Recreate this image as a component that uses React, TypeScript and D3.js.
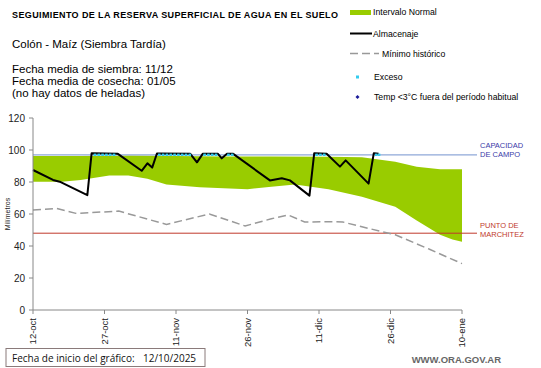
import React from "react";
import * as d3 from "d3";

const START = new Date(2025, 9, 12);
const tickLabels = ["12-oct", "27-oct", "11-nov", "26-nov", "11-dic", "26-dic", "10-ene"];
const tickDays = [0, 15, 30, 45, 60, 75, 90];
const yTicks = [0, 20, 40, 60, 80, 100, 120];

const bandUpperDays = [0, 10, 20, 30, 40, 50, 62, 69, 76, 80.5, 85.4, 90];
const bandUpperVals = [96.2, 96.3, 96.6, 96.3, 96, 96, 95.8, 95.4, 92.7, 89.6, 88, 88];
const bandLowerDays = [0, 6, 10, 16, 20, 24, 28, 35, 45, 50, 55, 62, 69, 76, 80.5, 85.4, 88, 90];
const bandLowerVals = [80.2, 80.2, 81.2, 84, 84, 82, 78.5, 76.7, 75.5, 77, 78.5, 75.4, 70.8, 64.6, 56, 47, 44, 42.7];

const storageDays = [0, 4.2, 5.6, 11.4, 12.3, 17.8, 22.8, 24, 25, 26, 33, 34.4, 35.6, 38.8, 39.6, 40.7, 42, 49.7, 52.2, 53.9, 58, 59, 61.6, 64.4, 65.6, 70.4, 71.5, 72.5];
const storageVals = [87.5, 81.3, 80.2, 71.8, 98, 97.6, 87, 91.7, 89, 97.8, 97.6, 92.3, 97.6, 97.6, 94.8, 97.6, 97.6, 81, 82.3, 81, 71.5, 98, 97.6, 89.6, 93.5, 79, 98, 97.6];

const minDays = [0, 5, 9, 18, 28, 37, 44.5, 50, 53.5, 57, 63, 65, 69, 76, 83.3, 90];
const minVals = [62.5, 63.5, 60.4, 61.8, 53.5, 60, 52.5, 57, 59.4, 55, 55.2, 55, 52, 47, 37.8, 29];

const excesoDays = [13, 13.8, 14.6, 15.4, 16.2, 17, 26.5, 27.3, 28.1, 28.9, 29.7, 30.5, 31.3, 32.1, 32.9, 36, 36.8, 37.6, 38.4, 41, 41.8, 59.5, 60.3, 61.1, 72, 72.6];
const excesoVal = 97;

const capacidad = 97;
const marchitez = 48;

const day = (d: number) => new Date(START.getTime() + d * 86400000);

export default function App() {
  const x = d3.scaleTime().domain([day(0), day(90)]).range([33, 462]);
  const y = d3.scaleLinear().domain([0, 120]).range([310, 118]);

  const upper = bandUpperDays.map((d, i) => ({ d, v: bandUpperVals[i] }));
  const lower = bandLowerDays.map((d, i) => ({ d, v: bandLowerVals[i] }));
  const areaPath =
    "M" +
    upper.map((p) => `${x(day(p.d))},${y(p.v)}`).join("L") +
    "L" +
    lower
      .slice()
      .reverse()
      .map((p) => `${x(day(p.d))},${y(p.v)}`)
      .join("L") +
    "Z";

  const line = d3
    .line<{ d: number; v: number }>()
    .x((p) => x(day(p.d)))
    .y((p) => y(p.v));

  const storage = storageDays.map((d, i) => ({ d, v: storageVals[i] }));
  const minH = minDays.map((d, i) => ({ d, v: minVals[i] }));

  const font = "'Liberation Sans', Arial, sans-serif";

  return (
    <svg width={541} height={368} style={{ position: "absolute", left: 0, top: 0 }} fontFamily={font}>
      <rect width={541} height={368} fill="#fff" />
      <text x={12} y={17.5} fontSize={9} fontWeight="bold" textLength={326} lengthAdjust="spacing">
        SEGUIMIENTO DE LA RESERVA SUPERFICIAL DE AGUA EN EL SUELO
      </text>
      <text x={12} y={48} fontSize={11.5}>Colón - Maíz (Siembra Tardía)</text>
      <text x={12} y={73} fontSize={11.5}>Fecha media de siembra: 11/12</text>
      <text x={12} y={85} fontSize={11.5}>Fecha media de cosecha: 01/05</text>
      <text x={12} y={97} fontSize={11.5}>(no hay datos de heladas)</text>

      {/* legend */}
      <rect x={350} y={10} width={21} height={5} fill="#99cc00" />
      <text x={373} y={15} fontSize={8.7}>Intervalo Normal</text>
      <line x1={350} x2={372} y1={33.5} y2={33.5} stroke="#000" strokeWidth={2} />
      <text x={373} y={37} fontSize={8.7}>Almacenaje</text>
      <line x1={350} x2={379} y1={53.5} y2={53.5} stroke="#999" strokeWidth={1.5} strokeDasharray="8,4" />
      <text x={382} y={57} fontSize={8.7}>Mínimo histórico</text>
      <rect x={356} y={75.5} width={3} height={3} fill="#33ccee" />
      <text x={374} y={80} fontSize={8.7}>Exceso</text>
      <path d="M357.5,95 L359.5,97 L357.5,99 L355.5,97 Z" fill="#1a1a99" />
      <text x={374} y={100} fontSize={8.7}>Temp &lt;3°C fuera del período habitual</text>

      {/* band */}
      <path d={areaPath} fill="#99cc00" />

      {/* reference lines */}
      <line x1={33} x2={477} y1={y(capacidad)} y2={y(capacidad)} stroke="#8fa8d8" strokeWidth={1.2} />
      <line x1={33} x2={477} y1={y(marchitez)} y2={y(marchitez)} stroke="#c0392b" strokeWidth={1} />
      <text x={480} y={148} fontSize={7.5} fill="#3a3aa8">CAPACIDAD</text>
      <text x={480} y={157} fontSize={7.5} fill="#3a3aa8">DE  CAMPO</text>
      <text x={480} y={228} fontSize={7.5} fill="#c0392b">PUNTO  DE</text>
      <text x={480} y={237} fontSize={7.5} fill="#c0392b">MARCHITEZ</text>

      {/* min historico */}
      <path d={line(minH) || ""} fill="none" stroke="#999" strokeWidth={1.5} strokeDasharray="8,4" />

      {/* storage */}
      <path d={line(storage) || ""} fill="none" stroke="#000" strokeWidth={2} strokeLinejoin="round" />

      {/* exceso */}
      {excesoDays.map((d, i) => (
        <rect key={i} x={x(day(d)) - 1.3} y={y(excesoVal) - 1.2} width={2.6} height={2.4} fill="#33ccee" />
      ))}

      {/* axes */}
      <line x1={33} x2={33} y1={118} y2={310} stroke="#888" strokeWidth={1} />
      <line x1={33} x2={462} y1={310} y2={310} stroke="#888" strokeWidth={1} />
      {yTicks.map((t) => (
        <g key={t}>
          <line x1={29} x2={33} y1={y(t)} y2={y(t)} stroke="#888" />
          <text x={25} y={y(t) + 3.5} fontSize={10} textAnchor="end" fill="#222">
            {t}
          </text>
        </g>
      ))}
      {tickDays.map((d, i) => (
        <g key={d}>
          <line x1={x(day(d))} x2={x(day(d))} y1={310} y2={314} stroke="#888" />
          <text
            transform={`translate(${x(day(d)) + 3},318) rotate(-90)`}
            fontSize={9.5}
            textAnchor="end"
            fill="#222"
          >
            {tickLabels[i]}
          </text>
        </g>
      ))}
      <text transform="translate(10,214) rotate(-90)" fontSize={7} textAnchor="middle" fill="#222">
        Milímetros
      </text>

      {/* footer */}
      <rect x={6} y={348.5} width={199} height={18} fill="#fff" stroke="#8a7a7a" strokeWidth={1} />
      <text x={12} y={361.5} fontSize={10} fontFamily="'Open Sans', sans-serif" fill="#111">
        Fecha de inicio del gráfico:
      </text>
      <text x={143} y={361.5} fontSize={10} fontFamily="'Open Sans', sans-serif" fill="#111">
        12/10/2025
      </text>
      <text x={501} y={363} fontSize={9.5} fontWeight="bold" textAnchor="end" fill="#666">
        WWW.ORA.GOV.AR
      </text>
    </svg>
  );
}
